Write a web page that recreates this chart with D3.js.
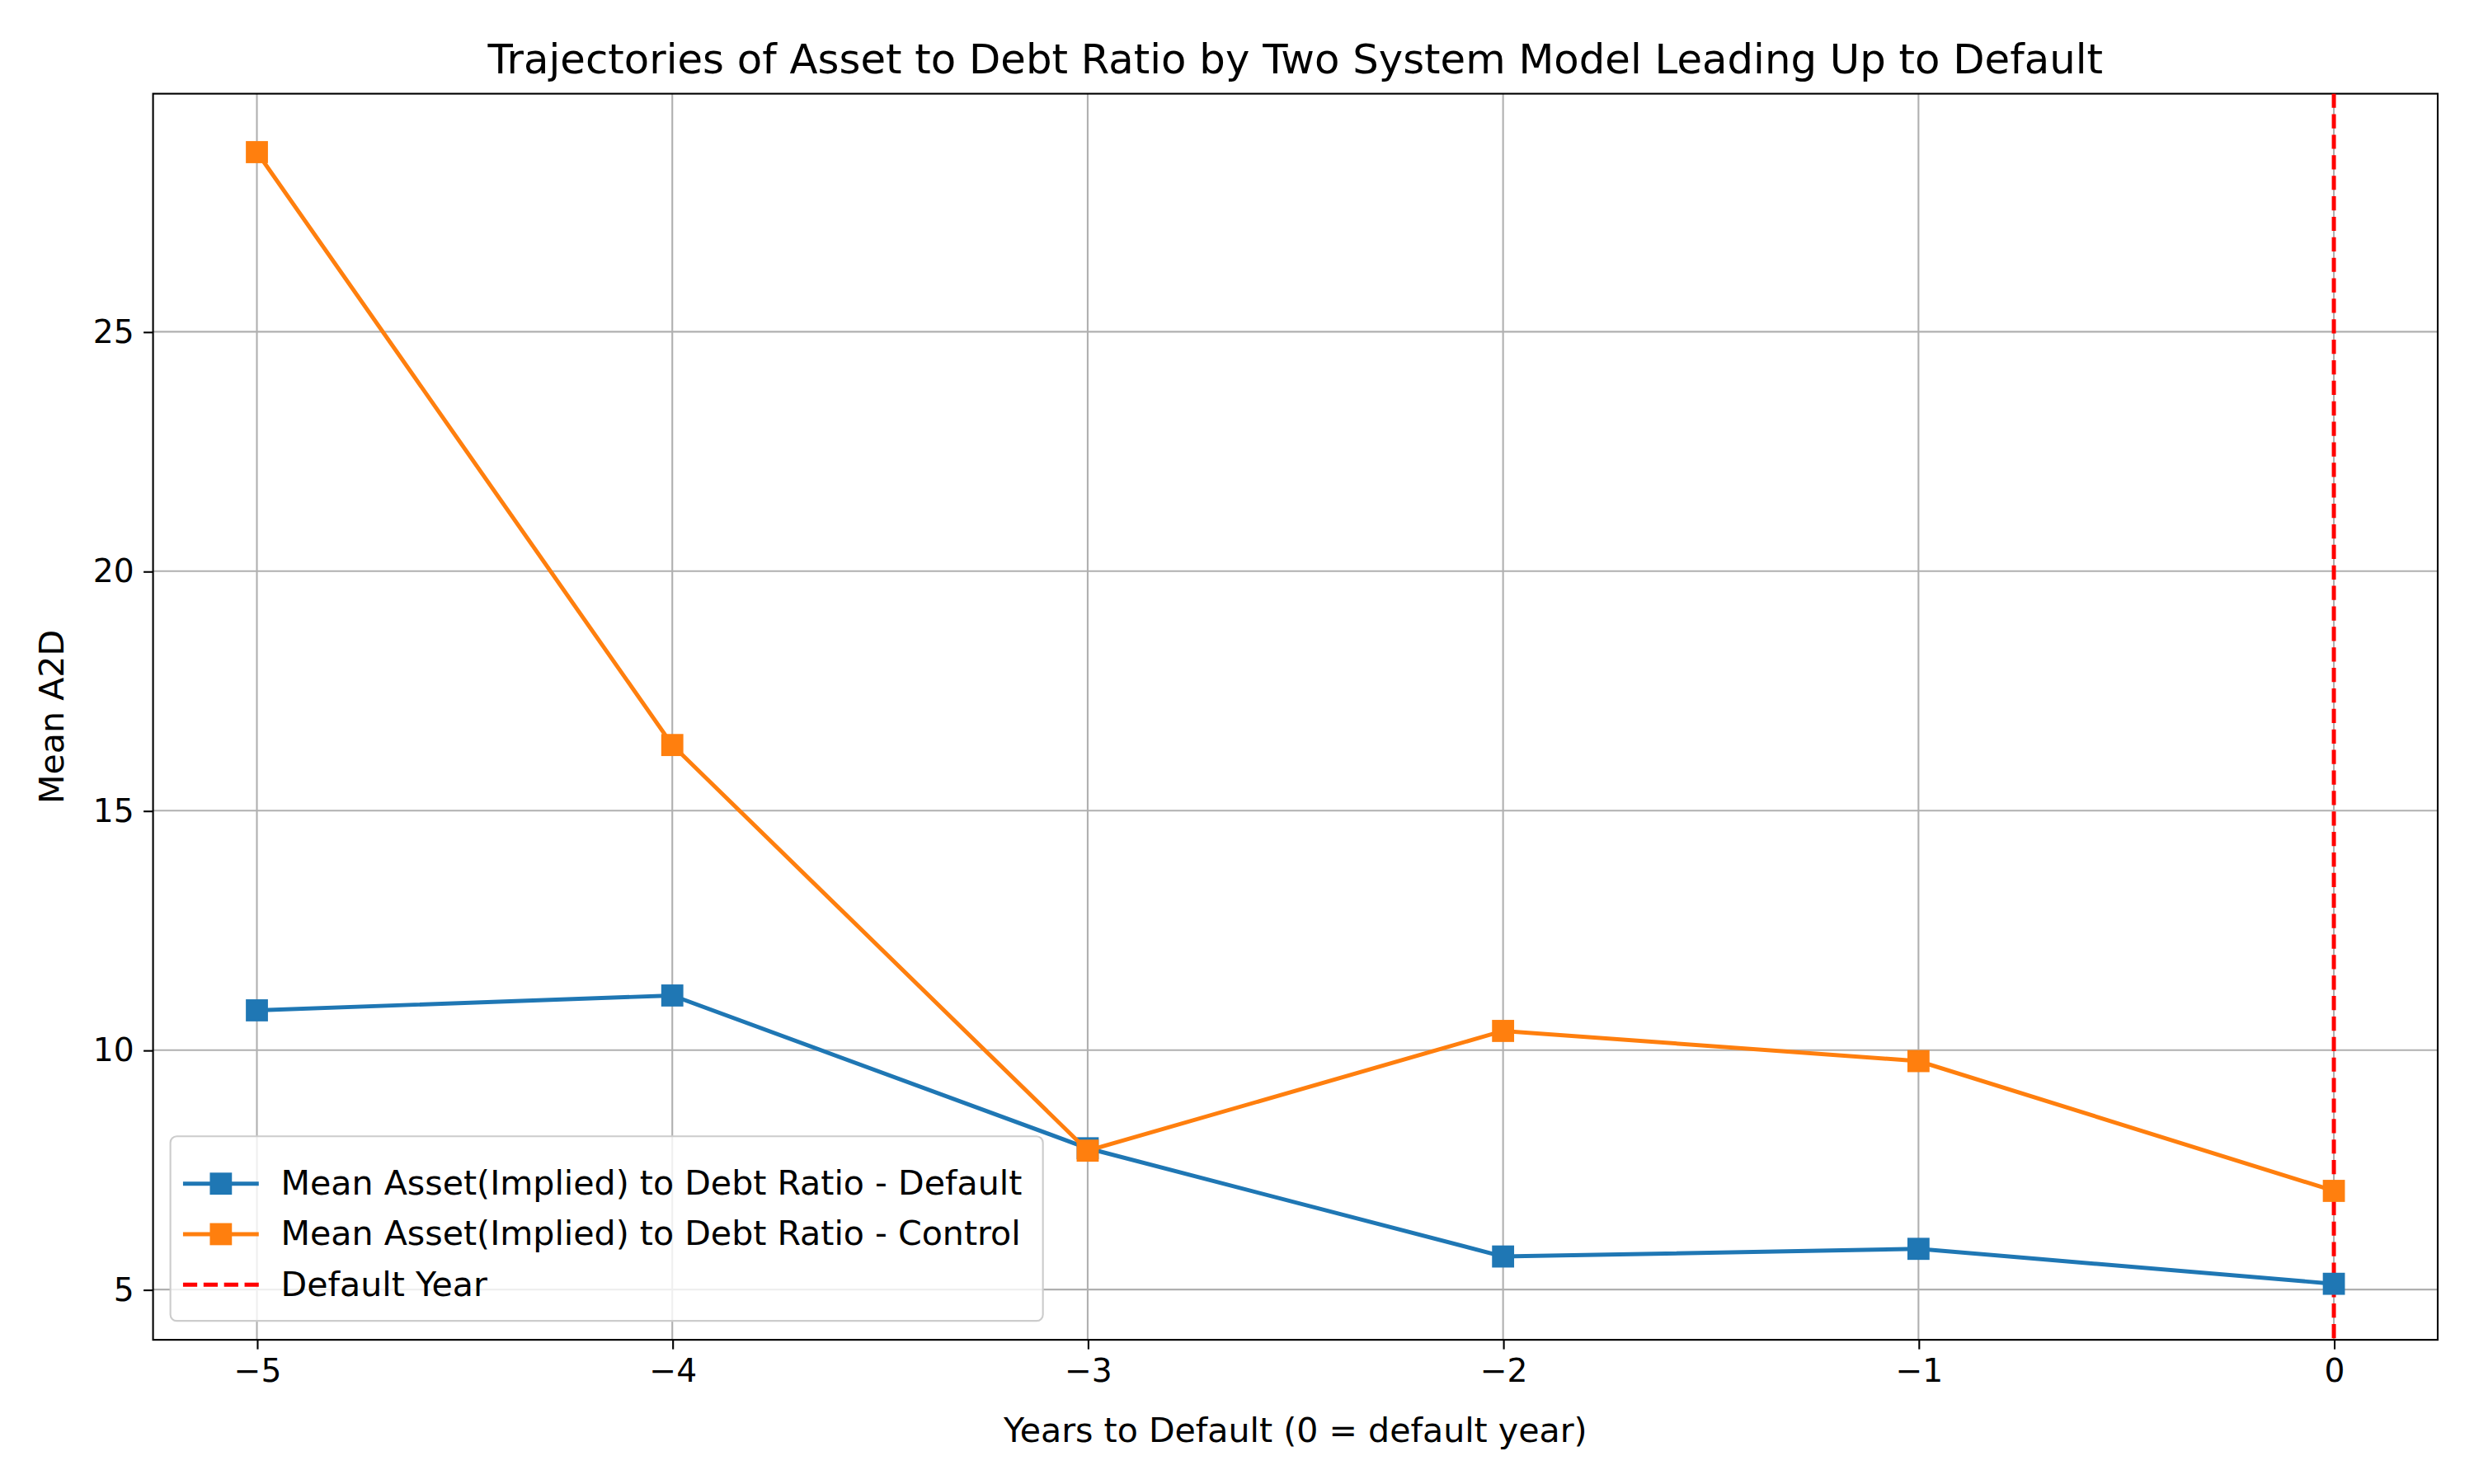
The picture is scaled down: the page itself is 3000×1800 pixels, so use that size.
<!DOCTYPE html>
<html><head><meta charset="utf-8">
<script src="https://cdn.jsdelivr.net/npm/d3@7"></script>
<style>body{margin:0;background:#fff}svg{display:block}text{font-family:"DejaVu Sans",sans-serif}</style>
</head><body>
<script>
var years = [-5, -4, -3, -2, -1, 0];
var defaultVals = [10.83, 11.14, 7.95, 5.69, 5.85, 5.12];
var controlVals = [28.75, 16.37, 7.90, 10.40, 9.77, 7.06];
var xTicks = [-5, -4, -3, -2, -1, 0];
var yTicks = [5, 10, 15, 20, 25];
var seriesNames = ['Mean Asset(Implied) to Debt Ratio - Default', 'Mean Asset(Implied) to Debt Ratio - Control', 'Default Year'];

var W = 1568, H = 940;
var m = {l: 97, r: 1545, t: 59, b: 849};

var svg = d3.select('body').append('svg')
  .attr('width', 3000).attr('height', 1800)
  .attr('viewBox', [0, 0, W, H].join(' '));

var x = d3.scaleLinear().domain([-5.25, 0.25]).range([m.l, m.r]);
var y = d3.scaleLinear().domain([3.95, 29.97]).range([m.b, m.t]);

// grid
svg.append('g').selectAll('line').data(xTicks).enter().append('line')
  .attr('x1', function(d) { return x(d) }).attr('x2', function(d) { return x(d) })
  .attr('y1', m.t).attr('y2', m.b).attr('stroke', '#b0b0b0').attr('stroke-width', 1.1);
svg.append('g').selectAll('line').data(yTicks).enter().append('line')
  .attr('y1', function(d) { return y(d) }).attr('y2', function(d) { return y(d) })
  .attr('x1', m.l).attr('x2', m.r).attr('stroke', '#b0b0b0').attr('stroke-width', 1.1);

// axes
var xAxis = svg.append('g').attr('transform', 'translate(0,' + m.b + ')')
  .call(d3.axisBottom(x).tickValues(xTicks).tickSize(6).tickPadding(6).tickFormat(function(d) { return d < 0 ? '\u2212' + (-d) : d }));
var yAxis = svg.append('g').attr('transform', 'translate(' + m.l + ',0)')
  .call(d3.axisLeft(y).tickValues(yTicks).tickSize(6).tickPadding(6));
[xAxis, yAxis].forEach(function(a) {
  a.select('.domain').remove();
  a.selectAll('text').attr('font-size', 20.5).attr('fill', '#000').style('font-family', '"DejaVu Sans",sans-serif');
  a.selectAll('line').attr('stroke', '#000').attr('stroke-width', 1.1);
});
svg.append('rect').attr('x', m.l).attr('y', m.t).attr('width', m.r - m.l).attr('height', m.b - m.t)
  .attr('fill', 'none').attr('stroke', '#000').attr('stroke-width', 1.1);

// default year line
svg.append('line').attr('x1', x(0)).attr('x2', x(0)).attr('y1', m.t).attr('y2', m.b)
  .attr('stroke', '#ff0000').attr('stroke-width', 2.6).attr('stroke-dasharray', '9,4');

var line = d3.line().x(function(d, i) { return x(years[i]) }).y(function(d) { return y(d) });
var series = [{v: defaultVals, c: '#1f77b4'}, {v: controlVals, c: '#ff7f0e'}];
series.forEach(function(s) {
  svg.append('path').datum(s.v).attr('d', line).attr('fill', 'none').attr('stroke', s.c).attr('stroke-width', 2.6);
  svg.append('g').selectAll('rect').data(s.v).enter().append('rect')
    .attr('x', function(d, i) { return x(years[i]) - 7 }).attr('y', function(d) { return y(d) - 7 })
    .attr('width', 14).attr('height', 14).attr('fill', s.c);
});

// title & labels
svg.append('text').attr('x', (m.l + m.r) / 2).attr('y', 46).attr('text-anchor', 'middle').attr('font-size', 26)
  .text('Trajectories of Asset to Debt Ratio by Two System Model Leading Up to Default');
svg.append('text').attr('x', (m.l + m.r) / 2).attr('y', 914).attr('text-anchor', 'middle').attr('font-size', 21.5)
  .text('Years to Default (0 = default year)');
svg.append('text').attr('transform', 'translate(40,' + ((m.t + m.b) / 2) + ') rotate(-90)').attr('text-anchor', 'middle').attr('font-size', 21.5)
  .text('Mean A2D');

// legend
var lg = svg.append('g').attr('transform', 'translate(108,720)');
lg.append('rect').attr('width', 553).attr('height', 117).attr('rx', 4).attr('fill', '#fff').attr('fill-opacity', 0.8)
  .attr('stroke', '#cccccc').attr('stroke-width', 1.1);
var colors = ['#1f77b4', '#ff7f0e', '#ff0000'];
seriesNames.forEach(function(n, i) {
  var yy = 30 + i * 32;
  var row = lg.append('g');
  row.append('line').attr('x1', 8).attr('x2', 56).attr('y1', yy).attr('y2', yy).attr('stroke', colors[i]).attr('stroke-width', 2.6)
    .attr('stroke-dasharray', i == 2 ? '9,4' : null);
  if (i < 2) row.append('rect').attr('x', 25).attr('y', yy - 7).attr('width', 14).attr('height', 14).attr('fill', colors[i]);
  row.append('text').attr('x', 70).attr('y', yy + 7).attr('font-size', 21.5).text(n);
});
</script>
</body></html>
